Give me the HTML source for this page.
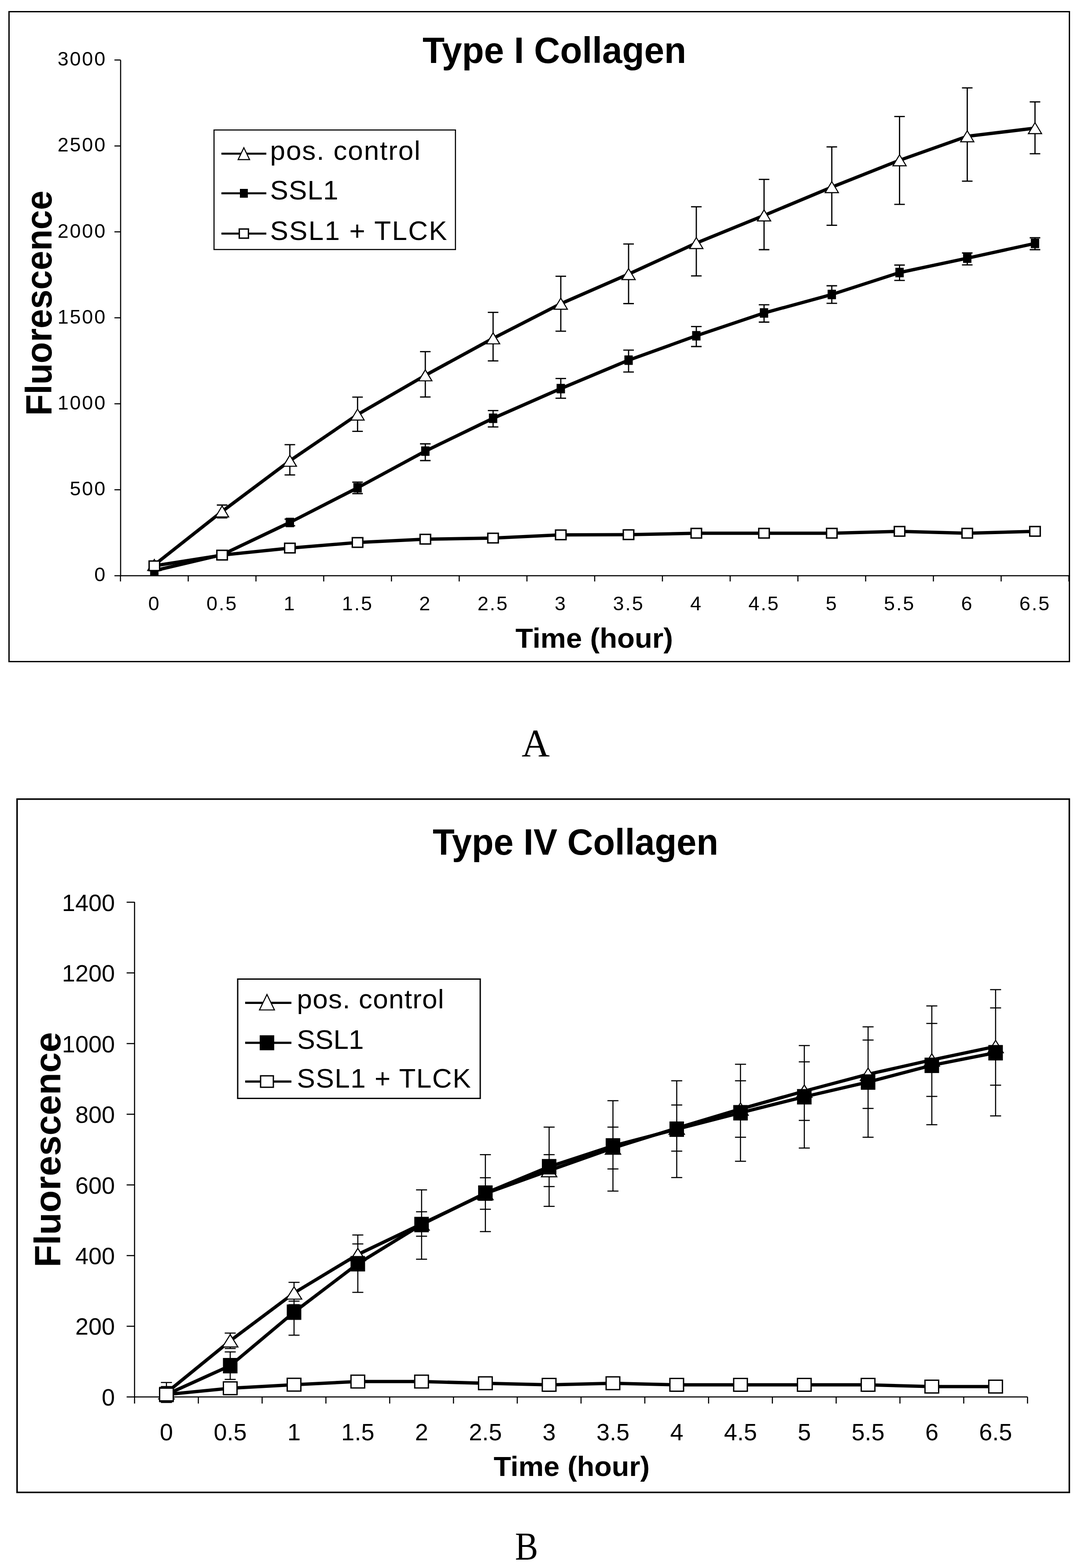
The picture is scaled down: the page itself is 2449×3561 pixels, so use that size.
<!DOCTYPE html><html><head><meta charset="utf-8"><title>Type I and Type IV Collagen fluorescence</title>
<style>html,body{margin:0;padding:0;background:#fff;}svg{display:block;}text{fill:#000;}</style></head><body>
<svg width="2449" height="3561" viewBox="0 0 2449 3561">
<rect width="2449" height="3561" fill="#fff"/>
<g id="chartA">
<rect x="20.5" y="26.5" width="2409" height="1476" fill="none" stroke="#000" stroke-width="3"/>
<path d="M274 136.5V1307.4H2428.5" fill="none" stroke="#000" stroke-width="2.5"/>
<path d="M260 1307.4H274M260 1112.2H274M260 917H274M260 721.8H274M260 526.6H274M260 331.4H274M260 136.2H274M273.7 1307.4V1320.4M427.6 1307.4V1320.4M581.5 1307.4V1320.4M735.4 1307.4V1320.4M889.3 1307.4V1320.4M1043.2 1307.4V1320.4M1197.1 1307.4V1320.4M1351 1307.4V1320.4M1504.9 1307.4V1320.4M1658.8 1307.4V1320.4M1812.7 1307.4V1320.4M1966.6 1307.4V1320.4M2120.5 1307.4V1320.4M2274.4 1307.4V1320.4M2428.3 1307.4V1320.4" stroke="#000" stroke-width="2.5"/>
<path d="M504.6 1147V1176M492.6 1147h24M492.6 1176h24M658.5 1009.8V1078.6M646.5 1009.8h24M646.5 1078.6h24M812.3 901.9V979.7M800.3 901.9h24M800.3 979.7h24M966.2 798.7V901.7M954.2 798.7h24M954.2 901.7h24M1120.2 709.4V819.7M1108.2 709.4h24M1108.2 819.7h24M1274 627.4V752.1M1262 627.4h24M1262 752.1h24M1428 554.2V689.5M1416 554.2h24M1416 689.5h24M1581.9 469.6V626.6M1569.9 469.6h24M1569.9 626.6h24M1735.8 407.4V567M1723.8 407.4h24M1723.8 567h24M1889.7 333.6V511.6M1877.7 333.6h24M1877.7 511.6h24M2043.6 264.6V464.2M2031.6 264.6h24M2031.6 464.2h24M2197.4 199.6V411.4M2185.4 199.6h24M2185.4 411.4h24M2351.3 231.4V349.2M2339.3 231.4h24M2339.3 349.2h24M658.5 1179V1194M646.5 1179h24M646.5 1194h24M812.3 1095V1121M800.3 1095h24M800.3 1121h24M966.2 1008V1046M954.2 1008h24M954.2 1046h24M1120.2 932.3V969.6M1108.2 932.3h24M1108.2 969.6h24M1274 859.7V904.4M1262 859.7h24M1262 904.4h24M1428 795.2V844.8M1416 795.2h24M1416 844.8h24M1581.9 741.6V787M1569.9 741.6h24M1569.9 787h24M1735.8 692.2V731.5M1723.8 692.2h24M1723.8 731.5h24M1889.7 649V688.9M1877.7 649h24M1877.7 688.9h24M2043.6 602V636.8M2031.6 602h24M2031.6 636.8h24M2197.4 574.5V601.6M2185.4 574.5h24M2185.4 601.6h24M2351.3 540V567M2339.3 540h24M2339.3 567h24" fill="none" stroke="#000" stroke-width="2.8"/>
<polyline points="350.6,1283 504.6,1161.5 658.5,1046.4 812.3,941.5 966.2,852.4 1120.2,768.4 1274,689.7 1428,622.5 1581.9,552 1735.8,489.2 1889.7,425 2043.6,364 2197.4,309.5 2351.3,291" fill="none" stroke="#000" stroke-width="7.5" stroke-linejoin="round"/>
<path d="M350.6 1270.5L365.6 1295.5H335.6Z" fill="#fff" stroke="#000" stroke-width="2.4"/>
<path d="M504.6 1149L519.5 1174H489.6Z" fill="#fff" stroke="#000" stroke-width="2.4"/>
<path d="M658.5 1033.9L673.5 1058.9H643.5Z" fill="#fff" stroke="#000" stroke-width="2.4"/>
<path d="M812.3 929L827.3 954H797.3Z" fill="#fff" stroke="#000" stroke-width="2.4"/>
<path d="M966.2 839.9L981.2 864.9H951.2Z" fill="#fff" stroke="#000" stroke-width="2.4"/>
<path d="M1120.2 755.9L1135.2 780.9H1105.2Z" fill="#fff" stroke="#000" stroke-width="2.4"/>
<path d="M1274 677.2L1289 702.2H1259Z" fill="#fff" stroke="#000" stroke-width="2.4"/>
<path d="M1428 610L1443 635H1413Z" fill="#fff" stroke="#000" stroke-width="2.4"/>
<path d="M1581.9 539.5L1596.9 564.5H1566.9Z" fill="#fff" stroke="#000" stroke-width="2.4"/>
<path d="M1735.8 476.7L1750.8 501.7H1720.8Z" fill="#fff" stroke="#000" stroke-width="2.4"/>
<path d="M1889.7 412.5L1904.7 437.5H1874.7Z" fill="#fff" stroke="#000" stroke-width="2.4"/>
<path d="M2043.6 351.5L2058.6 376.5H2028.6Z" fill="#fff" stroke="#000" stroke-width="2.4"/>
<path d="M2197.4 297L2212.4 322H2182.4Z" fill="#fff" stroke="#000" stroke-width="2.4"/>
<path d="M2351.3 278.5L2366.3 303.5H2336.3Z" fill="#fff" stroke="#000" stroke-width="2.4"/>
<polyline points="350.6,1296 504.6,1259.8 658.5,1186.5 812.3,1107.8 966.2,1024.5 1120.2,950 1274,882.5 1428,818 1581.9,762.5 1735.8,710.8 1889.7,668.8 2043.6,619 2197.4,586.3 2351.3,552.8" fill="none" stroke="#000" stroke-width="7.5" stroke-linejoin="round"/>
<rect x="341.1" y="1285.2" width="19" height="21.5" fill="#000"/>
<rect x="495.1" y="1249" width="19" height="21.5" fill="#000"/>
<rect x="649" y="1175.8" width="19" height="21.5" fill="#000"/>
<rect x="802.8" y="1097" width="19" height="21.5" fill="#000"/>
<rect x="956.8" y="1013.8" width="19" height="21.5" fill="#000"/>
<rect x="1110.7" y="939.2" width="19" height="21.5" fill="#000"/>
<rect x="1264.5" y="871.8" width="19" height="21.5" fill="#000"/>
<rect x="1418.5" y="807.2" width="19" height="21.5" fill="#000"/>
<rect x="1572.4" y="751.8" width="19" height="21.5" fill="#000"/>
<rect x="1726.2" y="700" width="19" height="21.5" fill="#000"/>
<rect x="1880.2" y="658" width="19" height="21.5" fill="#000"/>
<rect x="2034.1" y="608.2" width="19" height="21.5" fill="#000"/>
<rect x="2187.9" y="575.5" width="19" height="21.5" fill="#000"/>
<rect x="2341.8" y="542" width="19" height="21.5" fill="#000"/>
<polyline points="350.6,1285 504.6,1260.7 658.5,1244.7 812.3,1232 966.2,1224.5 1120.2,1222 1274,1214.7 1428,1214.3 1581.9,1211 1735.8,1211 1889.7,1211 2043.6,1206.7 2197.4,1211 2351.3,1206.7" fill="none" stroke="#000" stroke-width="7.5" stroke-linejoin="round"/>
<rect x="338.8" y="1274.1" width="23.8" height="21.8" fill="#fff" stroke="#000" stroke-width="3.2"/>
<rect x="492.7" y="1249.8" width="23.8" height="21.8" fill="#fff" stroke="#000" stroke-width="3.2"/>
<rect x="646.6" y="1233.8" width="23.8" height="21.8" fill="#fff" stroke="#000" stroke-width="3.2"/>
<rect x="800.4" y="1221.1" width="23.8" height="21.8" fill="#fff" stroke="#000" stroke-width="3.2"/>
<rect x="954.4" y="1213.6" width="23.8" height="21.8" fill="#fff" stroke="#000" stroke-width="3.2"/>
<rect x="1108.2" y="1211.1" width="23.8" height="21.8" fill="#fff" stroke="#000" stroke-width="3.2"/>
<rect x="1262.1" y="1203.8" width="23.8" height="21.8" fill="#fff" stroke="#000" stroke-width="3.2"/>
<rect x="1416" y="1203.4" width="23.8" height="21.8" fill="#fff" stroke="#000" stroke-width="3.2"/>
<rect x="1570" y="1200.1" width="23.8" height="21.8" fill="#fff" stroke="#000" stroke-width="3.2"/>
<rect x="1723.8" y="1200.1" width="23.8" height="21.8" fill="#fff" stroke="#000" stroke-width="3.2"/>
<rect x="1877.8" y="1200.1" width="23.8" height="21.8" fill="#fff" stroke="#000" stroke-width="3.2"/>
<rect x="2031.7" y="1195.8" width="23.8" height="21.8" fill="#fff" stroke="#000" stroke-width="3.2"/>
<rect x="2185.5" y="1200.1" width="23.8" height="21.8" fill="#fff" stroke="#000" stroke-width="3.2"/>
<rect x="2339.4" y="1195.8" width="23.8" height="21.8" fill="#fff" stroke="#000" stroke-width="3.2"/>
<rect x="486.2" y="295.2" width="548.5" height="271.5" fill="#fff" stroke="#000" stroke-width="2.5"/>
<path d="M503 349H605" stroke="#000" stroke-width="4.5"/>
<path d="M554 335.5L567 362.5H541Z" fill="#fff" stroke="#000" stroke-width="2.4"/>
<path d="M503 439H605" stroke="#000" stroke-width="4.5"/>
<rect x="545" y="429" width="18" height="20" fill="#000"/>
<path d="M503 530.5H605" stroke="#000" stroke-width="4.5"/>
<rect x="543.6" y="520.1" width="20.8" height="20.8" fill="#fff" stroke="#000" stroke-width="3.2"/>
<text x="613.5" y="362.6" textLength="341.4" lengthAdjust="spacing" style="font-family:'Liberation Sans', Arial, sans-serif;font-size:62px">pos. control</text>
<text x="613.5" y="452.7" textLength="155" lengthAdjust="spacing" style="font-family:'Liberation Sans', Arial, sans-serif;font-size:62px">SSL1</text>
<text x="613.5" y="545" textLength="402" lengthAdjust="spacing" style="font-family:'Liberation Sans', Arial, sans-serif;font-size:62px">SSL1 + TLCK</text>
<text x="960" y="143" textLength="599" lengthAdjust="spacingAndGlyphs" text-anchor="start" style="font-family:'Liberation Sans', Arial, sans-serif;font-size:84px;font-weight:bold">Type I Collagen</text>
<text x="0" y="0" textLength="511" lengthAdjust="spacingAndGlyphs" text-anchor="start" style="font-family:'Liberation Sans', Arial, sans-serif;font-size:83px;font-weight:bold" transform="translate(116.5 944) rotate(-90)">Fluorescence</text>
<text x="1171" y="1471" textLength="358" lengthAdjust="spacingAndGlyphs" text-anchor="start" style="font-family:'Liberation Sans', Arial, sans-serif;font-size:63.5px;font-weight:bold">Time (hour)</text>
<text x="242" y="1320.4" text-anchor="end" style="font-family:'Liberation Sans', Arial, sans-serif;font-size:45px;font-weight:normal" letter-spacing="2.8">0</text>
<text x="242" y="1125.2" text-anchor="end" style="font-family:'Liberation Sans', Arial, sans-serif;font-size:45px;font-weight:normal" letter-spacing="2.8">500</text>
<text x="242" y="930" text-anchor="end" style="font-family:'Liberation Sans', Arial, sans-serif;font-size:45px;font-weight:normal" letter-spacing="2.8">1000</text>
<text x="242" y="734.8" text-anchor="end" style="font-family:'Liberation Sans', Arial, sans-serif;font-size:45px;font-weight:normal" letter-spacing="2.8">1500</text>
<text x="242" y="539.6" text-anchor="end" style="font-family:'Liberation Sans', Arial, sans-serif;font-size:45px;font-weight:normal" letter-spacing="2.8">2000</text>
<text x="242" y="344.4" text-anchor="end" style="font-family:'Liberation Sans', Arial, sans-serif;font-size:45px;font-weight:normal" letter-spacing="2.8">2500</text>
<text x="242" y="149.2" text-anchor="end" style="font-family:'Liberation Sans', Arial, sans-serif;font-size:45px;font-weight:normal" letter-spacing="2.8">3000</text>
<text x="350.6" y="1386" text-anchor="middle" style="font-family:'Liberation Sans', Arial, sans-serif;font-size:45px;font-weight:normal" letter-spacing="2.8">0</text>
<text x="504.6" y="1386" text-anchor="middle" style="font-family:'Liberation Sans', Arial, sans-serif;font-size:45px;font-weight:normal" letter-spacing="2.8">0.5</text>
<text x="658.5" y="1386" text-anchor="middle" style="font-family:'Liberation Sans', Arial, sans-serif;font-size:45px;font-weight:normal" letter-spacing="2.8">1</text>
<text x="812.3" y="1386" text-anchor="middle" style="font-family:'Liberation Sans', Arial, sans-serif;font-size:45px;font-weight:normal" letter-spacing="2.8">1.5</text>
<text x="966.2" y="1386" text-anchor="middle" style="font-family:'Liberation Sans', Arial, sans-serif;font-size:45px;font-weight:normal" letter-spacing="2.8">2</text>
<text x="1120.2" y="1386" text-anchor="middle" style="font-family:'Liberation Sans', Arial, sans-serif;font-size:45px;font-weight:normal" letter-spacing="2.8">2.5</text>
<text x="1274" y="1386" text-anchor="middle" style="font-family:'Liberation Sans', Arial, sans-serif;font-size:45px;font-weight:normal" letter-spacing="2.8">3</text>
<text x="1428" y="1386" text-anchor="middle" style="font-family:'Liberation Sans', Arial, sans-serif;font-size:45px;font-weight:normal" letter-spacing="2.8">3.5</text>
<text x="1581.9" y="1386" text-anchor="middle" style="font-family:'Liberation Sans', Arial, sans-serif;font-size:45px;font-weight:normal" letter-spacing="2.8">4</text>
<text x="1735.8" y="1386" text-anchor="middle" style="font-family:'Liberation Sans', Arial, sans-serif;font-size:45px;font-weight:normal" letter-spacing="2.8">4.5</text>
<text x="1889.7" y="1386" text-anchor="middle" style="font-family:'Liberation Sans', Arial, sans-serif;font-size:45px;font-weight:normal" letter-spacing="2.8">5</text>
<text x="2043.6" y="1386" text-anchor="middle" style="font-family:'Liberation Sans', Arial, sans-serif;font-size:45px;font-weight:normal" letter-spacing="2.8">5.5</text>
<text x="2197.4" y="1386" text-anchor="middle" style="font-family:'Liberation Sans', Arial, sans-serif;font-size:45px;font-weight:normal" letter-spacing="2.8">6</text>
<text x="2351.3" y="1386" text-anchor="middle" style="font-family:'Liberation Sans', Arial, sans-serif;font-size:45px;font-weight:normal" letter-spacing="2.8">6.5</text>
</g>
<g id="chartB">
<rect x="38.8" y="1814.8" width="2390.5" height="1574.5" fill="none" stroke="#000" stroke-width="3.5"/>
<path d="M305.7 2048.5V3172.4H2334.3" fill="none" stroke="#000" stroke-width="2.5"/>
<path d="M287.7 3172.4H305.7M287.7 3011.9H305.7M287.7 2851.4H305.7M287.7 2691H305.7M287.7 2530.5H305.7M287.7 2370H305.7M287.7 2209.5H305.7M287.7 2049H305.7M305.7 3172.4V3187.4M450.6 3172.4V3187.4M595.5 3172.4V3187.4M740.4 3172.4V3187.4M885.3 3172.4V3187.4M1030.2 3172.4V3187.4M1175.1 3172.4V3187.4M1320 3172.4V3187.4M1464.9 3172.4V3187.4M1609.8 3172.4V3187.4M1754.7 3172.4V3187.4M1899.6 3172.4V3187.4M2044.5 3172.4V3187.4M2189.4 3172.4V3187.4M2334.3 3172.4V3187.4" stroke="#000" stroke-width="2.5"/>
<path d="M378.1 3149V3177M365.6 3149h25M365.6 3177h25M523 3027.4V3062.6M510.5 3027.4h25M510.5 3062.6h25M668 2912.3V2963M655.5 2912.3h25M655.5 2963h25M812.9 2825V2873M800.4 2825h25M800.4 2873h25M957.8 2751.9V2807.5M945.2 2751.9h25M945.2 2807.5h25M1102.7 2674.8V2746.2M1090.2 2674.8h25M1090.2 2746.2h25M1247.5 2622.3V2694.7M1235 2622.3h25M1235 2694.7h25M1392.5 2559.7V2654.7M1380 2559.7h25M1380 2654.7h25M1537.4 2509.6V2614.3M1524.9 2509.6h25M1524.9 2614.3h25M1682.2 2454.6V2582.7M1669.8 2454.6h25M1669.8 2582.7h25M1827.2 2411.5V2544.5M1814.7 2411.5h25M1814.7 2544.5h25M1972.1 2362V2517.3M1959.6 2362h25M1959.6 2517.3h25M2116.9 2324.3V2490M2104.4 2324.3h25M2104.4 2490h25M2261.8 2288.9V2464.4M2249.3 2288.9h25M2249.3 2464.4h25M378.1 3139.8V3185M365.6 3139.8h25M365.6 3185h25M523 3070.3V3132.7M510.5 3070.3h25M510.5 3132.7h25M668 2955V3032.2M655.5 2955h25M655.5 3032.2h25M812.9 2804.8V2935M800.4 2804.8h25M800.4 2935h25M957.8 2702.3V2859.8M945.2 2702.3h25M945.2 2859.8h25M1102.7 2622.2V2797M1090.2 2622.2h25M1090.2 2797h25M1247.5 2559.7V2739.8M1235 2559.7h25M1235 2739.8h25M1392.5 2499.8V2705M1380 2499.8h25M1380 2705h25M1537.4 2454.6V2674.2M1524.9 2454.6h25M1524.9 2674.2h25M1682.2 2417V2637.2M1669.8 2417h25M1669.8 2637.2h25M1827.2 2374.4V2607.2M1814.7 2374.4h25M1814.7 2607.2h25M1972.1 2332V2582.7M1959.6 2332h25M1959.6 2582.7h25M2116.9 2284.5V2554.3M2104.4 2284.5h25M2104.4 2554.3h25M2261.8 2247.4V2534.2M2249.3 2247.4h25M2249.3 2534.2h25" fill="none" stroke="#000" stroke-width="2.5"/>
<polyline points="378.1,3163 523,3045 668,2936.4 812.9,2849 957.8,2779.7 1102.7,2710.5 1247.5,2658.5 1392.5,2607.2 1537.4,2562 1682.2,2518.7 1827.2,2478 1972.1,2439.7 2116.9,2407.2 2261.8,2376.7" fill="none" stroke="#000" stroke-width="7.5" stroke-linejoin="round"/>
<path d="M378.1 3149L395.6 3177H360.6Z" fill="#fff" stroke="#000" stroke-width="2.4"/>
<path d="M523 3031L540.5 3059H505.5Z" fill="#fff" stroke="#000" stroke-width="2.4"/>
<path d="M668 2922.4L685.5 2950.4H650.5Z" fill="#fff" stroke="#000" stroke-width="2.4"/>
<path d="M812.9 2835L830.4 2863H795.4Z" fill="#fff" stroke="#000" stroke-width="2.4"/>
<path d="M957.8 2765.7L975.2 2793.7H940.2Z" fill="#fff" stroke="#000" stroke-width="2.4"/>
<path d="M1102.7 2696.5L1120.2 2724.5H1085.2Z" fill="#fff" stroke="#000" stroke-width="2.4"/>
<path d="M1247.5 2644.5L1265 2672.5H1230Z" fill="#fff" stroke="#000" stroke-width="2.4"/>
<path d="M1392.5 2593.2L1410 2621.2H1375Z" fill="#fff" stroke="#000" stroke-width="2.4"/>
<path d="M1537.4 2548L1554.9 2576H1519.9Z" fill="#fff" stroke="#000" stroke-width="2.4"/>
<path d="M1682.2 2504.7L1699.8 2532.7H1664.8Z" fill="#fff" stroke="#000" stroke-width="2.4"/>
<path d="M1827.2 2464L1844.7 2492H1809.7Z" fill="#fff" stroke="#000" stroke-width="2.4"/>
<path d="M1972.1 2425.7L1989.6 2453.7H1954.6Z" fill="#fff" stroke="#000" stroke-width="2.4"/>
<path d="M2116.9 2393.2L2134.4 2421.2H2099.4Z" fill="#fff" stroke="#000" stroke-width="2.4"/>
<path d="M2261.8 2362.7L2279.3 2390.7H2244.3Z" fill="#fff" stroke="#000" stroke-width="2.4"/>
<polyline points="378.1,3167 523,3101.5 668,2980 812.9,2870 957.8,2781 1102.7,2709.6 1247.5,2649.7 1392.5,2602.4 1537.4,2564.4 1682.2,2527.1 1827.2,2490.8 1972.1,2457.4 2116.9,2419.4 2261.8,2390.8" fill="none" stroke="#000" stroke-width="7.5" stroke-linejoin="round"/>
<rect x="361.6" y="3149.5" width="33" height="35" fill="#000"/>
<rect x="506.5" y="3084" width="33" height="35" fill="#000"/>
<rect x="651.5" y="2962.5" width="33" height="35" fill="#000"/>
<rect x="796.4" y="2852.5" width="33" height="35" fill="#000"/>
<rect x="941.2" y="2763.5" width="33" height="35" fill="#000"/>
<rect x="1086.2" y="2692.1" width="33" height="35" fill="#000"/>
<rect x="1231" y="2632.2" width="33" height="35" fill="#000"/>
<rect x="1376" y="2584.9" width="33" height="35" fill="#000"/>
<rect x="1520.9" y="2546.9" width="33" height="35" fill="#000"/>
<rect x="1665.8" y="2509.6" width="33" height="35" fill="#000"/>
<rect x="1810.7" y="2473.3" width="33" height="35" fill="#000"/>
<rect x="1955.6" y="2439.9" width="33" height="35" fill="#000"/>
<rect x="2100.4" y="2401.9" width="33" height="35" fill="#000"/>
<rect x="2245.3" y="2373.3" width="33" height="35" fill="#000"/>
<polyline points="378.1,3167 523,3152.8 668,3144.7 812.9,3137.6 957.8,3137.6 1102.7,3141.4 1247.5,3145 1392.5,3141.4 1537.4,3145 1682.2,3145 1827.2,3145 1972.1,3145 2116.9,3149 2261.8,3149" fill="none" stroke="#000" stroke-width="7.5" stroke-linejoin="round"/>
<rect x="362.6" y="3152.5" width="31" height="29" fill="#fff" stroke="#000" stroke-width="3"/>
<rect x="507.5" y="3138.3" width="31" height="29" fill="#fff" stroke="#000" stroke-width="3"/>
<rect x="652.5" y="3130.2" width="31" height="29" fill="#fff" stroke="#000" stroke-width="3"/>
<rect x="797.4" y="3123.1" width="31" height="29" fill="#fff" stroke="#000" stroke-width="3"/>
<rect x="942.2" y="3123.1" width="31" height="29" fill="#fff" stroke="#000" stroke-width="3"/>
<rect x="1087.2" y="3126.9" width="31" height="29" fill="#fff" stroke="#000" stroke-width="3"/>
<rect x="1232" y="3130.5" width="31" height="29" fill="#fff" stroke="#000" stroke-width="3"/>
<rect x="1377" y="3126.9" width="31" height="29" fill="#fff" stroke="#000" stroke-width="3"/>
<rect x="1521.9" y="3130.5" width="31" height="29" fill="#fff" stroke="#000" stroke-width="3"/>
<rect x="1666.8" y="3130.5" width="31" height="29" fill="#fff" stroke="#000" stroke-width="3"/>
<rect x="1811.7" y="3130.5" width="31" height="29" fill="#fff" stroke="#000" stroke-width="3"/>
<rect x="1956.6" y="3130.5" width="31" height="29" fill="#fff" stroke="#000" stroke-width="3"/>
<rect x="2101.4" y="3134.5" width="31" height="29" fill="#fff" stroke="#000" stroke-width="3"/>
<rect x="2246.3" y="3134.5" width="31" height="29" fill="#fff" stroke="#000" stroke-width="3"/>
<rect x="540" y="2223.5" width="551" height="271" fill="#fff" stroke="#000" stroke-width="3"/>
<path d="M557 2277.6H662" stroke="#000" stroke-width="5"/>
<path d="M606.5 2258.6L623.5 2293.6H589.5Z" fill="#fff" stroke="#000" stroke-width="2.4"/>
<path d="M557 2368.2H662" stroke="#000" stroke-width="5"/>
<rect x="590" y="2351.2" width="33" height="34" fill="#000"/>
<path d="M557 2456.2H662" stroke="#000" stroke-width="5"/>
<rect x="592" y="2443.2" width="29" height="26" fill="#fff" stroke="#000" stroke-width="3"/>
<text x="674.5" y="2289.6" textLength="334" lengthAdjust="spacing" style="font-family:'Liberation Sans', Arial, sans-serif;font-size:62px">pos. control</text>
<text x="674.5" y="2382" textLength="152" lengthAdjust="spacing" style="font-family:'Liberation Sans', Arial, sans-serif;font-size:62px">SSL1</text>
<text x="674.5" y="2469.6" textLength="395" lengthAdjust="spacing" style="font-family:'Liberation Sans', Arial, sans-serif;font-size:62px">SSL1 + TLCK</text>
<text x="983" y="1941.2" textLength="649" lengthAdjust="spacingAndGlyphs" text-anchor="start" style="font-family:'Liberation Sans', Arial, sans-serif;font-size:84px;font-weight:bold">Type IV Collagen</text>
<text x="0" y="0" textLength="534" lengthAdjust="spacingAndGlyphs" text-anchor="start" style="font-family:'Liberation Sans', Arial, sans-serif;font-size:83px;font-weight:bold" transform="translate(136.5 2878) rotate(-90)">Fluorescence</text>
<text x="1121.4" y="3352" textLength="354.6" lengthAdjust="spacingAndGlyphs" text-anchor="start" style="font-family:'Liberation Sans', Arial, sans-serif;font-size:63.5px;font-weight:bold">Time (hour)</text>
<text x="261" y="3191.9" text-anchor="end" style="font-family:'Liberation Sans', Arial, sans-serif;font-size:54px;font-weight:normal">0</text>
<text x="261" y="3031.4" text-anchor="end" style="font-family:'Liberation Sans', Arial, sans-serif;font-size:54px;font-weight:normal">200</text>
<text x="261" y="2870.9" text-anchor="end" style="font-family:'Liberation Sans', Arial, sans-serif;font-size:54px;font-weight:normal">400</text>
<text x="261" y="2710.5" text-anchor="end" style="font-family:'Liberation Sans', Arial, sans-serif;font-size:54px;font-weight:normal">600</text>
<text x="261" y="2550" text-anchor="end" style="font-family:'Liberation Sans', Arial, sans-serif;font-size:54px;font-weight:normal">800</text>
<text x="261" y="2389.5" text-anchor="end" style="font-family:'Liberation Sans', Arial, sans-serif;font-size:54px;font-weight:normal">1000</text>
<text x="261" y="2229" text-anchor="end" style="font-family:'Liberation Sans', Arial, sans-serif;font-size:54px;font-weight:normal">1200</text>
<text x="261" y="2068.5" text-anchor="end" style="font-family:'Liberation Sans', Arial, sans-serif;font-size:54px;font-weight:normal">1400</text>
<text x="378.1" y="3270.5" text-anchor="middle" style="font-family:'Liberation Sans', Arial, sans-serif;font-size:54px;font-weight:normal">0</text>
<text x="523" y="3270.5" text-anchor="middle" style="font-family:'Liberation Sans', Arial, sans-serif;font-size:54px;font-weight:normal">0.5</text>
<text x="668" y="3270.5" text-anchor="middle" style="font-family:'Liberation Sans', Arial, sans-serif;font-size:54px;font-weight:normal">1</text>
<text x="812.9" y="3270.5" text-anchor="middle" style="font-family:'Liberation Sans', Arial, sans-serif;font-size:54px;font-weight:normal">1.5</text>
<text x="957.8" y="3270.5" text-anchor="middle" style="font-family:'Liberation Sans', Arial, sans-serif;font-size:54px;font-weight:normal">2</text>
<text x="1102.7" y="3270.5" text-anchor="middle" style="font-family:'Liberation Sans', Arial, sans-serif;font-size:54px;font-weight:normal">2.5</text>
<text x="1247.5" y="3270.5" text-anchor="middle" style="font-family:'Liberation Sans', Arial, sans-serif;font-size:54px;font-weight:normal">3</text>
<text x="1392.5" y="3270.5" text-anchor="middle" style="font-family:'Liberation Sans', Arial, sans-serif;font-size:54px;font-weight:normal">3.5</text>
<text x="1537.4" y="3270.5" text-anchor="middle" style="font-family:'Liberation Sans', Arial, sans-serif;font-size:54px;font-weight:normal">4</text>
<text x="1682.2" y="3270.5" text-anchor="middle" style="font-family:'Liberation Sans', Arial, sans-serif;font-size:54px;font-weight:normal">4.5</text>
<text x="1827.2" y="3270.5" text-anchor="middle" style="font-family:'Liberation Sans', Arial, sans-serif;font-size:54px;font-weight:normal">5</text>
<text x="1972.1" y="3270.5" text-anchor="middle" style="font-family:'Liberation Sans', Arial, sans-serif;font-size:54px;font-weight:normal">5.5</text>
<text x="2116.9" y="3270.5" text-anchor="middle" style="font-family:'Liberation Sans', Arial, sans-serif;font-size:54px;font-weight:normal">6</text>
<text x="2261.8" y="3270.5" text-anchor="middle" style="font-family:'Liberation Sans', Arial, sans-serif;font-size:54px;font-weight:normal">6.5</text>
</g>
<text x="1185" y="1716.7" text-anchor="start" style="font-family:'Liberation Serif', 'Times New Roman', serif;font-size:88.5px;font-weight:normal">A</text>
<text x="1170" y="3541" textLength="52.4" lengthAdjust="spacingAndGlyphs" text-anchor="start" style="font-family:'Liberation Serif', 'Times New Roman', serif;font-size:88.5px;font-weight:normal">B</text>
</svg></body></html>
